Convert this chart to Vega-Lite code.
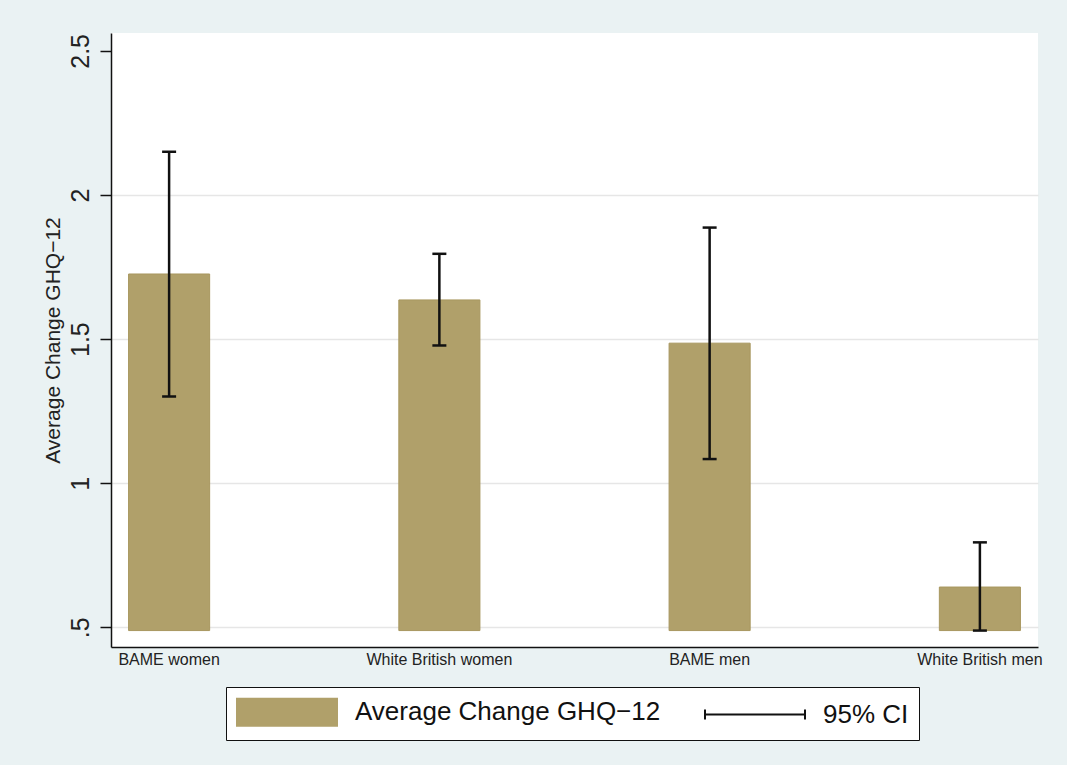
{
  "$schema": "https://vega.github.io/schema/vega-lite/v6.json",
  "autosize": {"type": "none"},
  "width": 927,
  "height": 614,
  "padding": {"left": 111, "top": 33, "right": 29, "bottom": 118},
  "background": "#eaf2f3",
  "config": {
    "font": "Liberation Sans",
    "view": {"fill": "white", "stroke": null}
  },
  "data": {
    "values": [
      {"group": "BAME women", "mean": 1.726, "lo": 1.301, "hi": 2.150},
      {"group": "White British women", "mean": 1.636, "lo": 1.478, "hi": 1.796},
      {"group": "BAME men", "mean": 1.486, "lo": 1.084, "hi": 1.887},
      {"group": "White British men", "mean": 0.640, "lo": 0.489, "hi": 0.795}
    ]
  },
  "encoding": {
    "x": {
      "field": "group",
      "type": "nominal",
      "sort": null,
      "scale": {"paddingInner": 0.7, "paddingOuter": 0.065},
      "axis": {
        "title": null,
        "labelAngle": 0,
        "labelFontSize": 16,
        "labelColor": "#222",
        "labelPadding": 4,
        "ticks": false,
        "domainColor": "#111",
        "domainWidth": 1.5,
        "grid": false,
        "labelBound": false,
        "labelOverlap": false
      }
    }
  },
  "layer": [
    {
      "mark": {"type": "bar", "stroke": "#a8975f", "strokeWidth": 1},
      "encoding": {
        "y": {
          "field": "mean",
          "type": "quantitative",
          "scale": {"domain": [0.432, 2.562], "nice": false, "zero": false},
          "axis": {
            "title": "Average Change GHQ−12",
            "titleFontSize": 21,
            "titleFontWeight": "normal",
            "titleColor": "#222",
            "titlePadding": 5,
            "values": [0.5, 1, 1.5, 2, 2.5],
            "labelExpr": "datum.value == 0.5 ? '.5' : format(datum.value, '~g')",
            "labelAngle": -90,
            "labelAlign": "center",
            "labelBaseline": "alphabetic",
            "labelFontSize": 25,
            "labelColor": "#222",
            "labelPadding": 12,
            "tickSize": 11,
            "tickColor": "#111",
            "tickWidth": 1.5,
            "domainColor": "#111",
            "domainWidth": 1.5,
            "grid": true,
            "gridColor": "#e6e6e6",
            "gridWidth": 1.5,
            "gridOpacity": {"condition": {"test": "datum.value == 2.5", "value": 0}, "value": 1}
          }
        },
        "y2": {"datum": 0.489},
        "color": {
          "datum": "Average Change GHQ−12",
          "scale": {"domain": ["Average Change GHQ−12", "95% CI"], "range": ["#b0a06a", "#111111"]},
          "legend": {
            "orient": "none",
            "legendX": 115,
            "legendY": 654,
            "direction": "horizontal",
            "title": null,
            "symbolSize": 784,
            "symbolStrokeWidth": 2,
            "symbolType": {"expr": "datum.value === '95% CI' ? 'M-1,-0.357V0.357M-1,0H6.143M6.143,-0.357V0.357' : 'M-1,-0.964H6.143V0.964H-1Z'"},
            "labelFontSize": 26,
            "labelColor": "#111",
            "labelOffset": 89,
            "labelLimit": 1000,
            "columnPadding": 40,
            "padding": 10,
            "strokeColor": "#111",
            "fillColor": "white",
            "encode": {
              "legend": {"strokeWidth": {"value": 1.8}},
              "symbols": {
                "shape": {"value": {"expr": "datum.value === '95% CI' ? 'M-1,-0.357V0.357M-1,0H6.143M6.143,-0.357V0.357' : 'M-1,-0.964H6.143V0.964H-1Z'"}},
                "fill": {"value": {"expr": "datum.value === '95% CI' ? 'transparent' : '#b0a06a'"}},
                "stroke": {"value": {"expr": "datum.value === '95% CI' ? '#111111' : '#a8975f'"}},
                "strokeWidth": {"value": 2},
                "opacity": {"value": 1},
                "fillOpacity": {"value": 1},
                "strokeOpacity": {"value": 1}
              }
            }
          }
        }
      }
    },
    {
      "mark": {"type": "rule", "strokeWidth": 2.5},
      "encoding": {
        "y": {"field": "lo", "type": "quantitative"},
        "y2": {"field": "hi"},
        "color": {"datum": "95% CI", "legend": null}
      }
    },
    {
      "mark": {"type": "tick", "size": 14, "thickness": 2.5, "opacity": 1},
      "encoding": {
        "y": {"field": "lo", "type": "quantitative"},
        "color": {"datum": "95% CI", "legend": null}
      }
    },
    {
      "mark": {"type": "tick", "size": 14, "thickness": 2.5, "opacity": 1},
      "encoding": {
        "y": {"field": "hi", "type": "quantitative"},
        "color": {"datum": "95% CI", "legend": null}
      }
    }
  ]
}
